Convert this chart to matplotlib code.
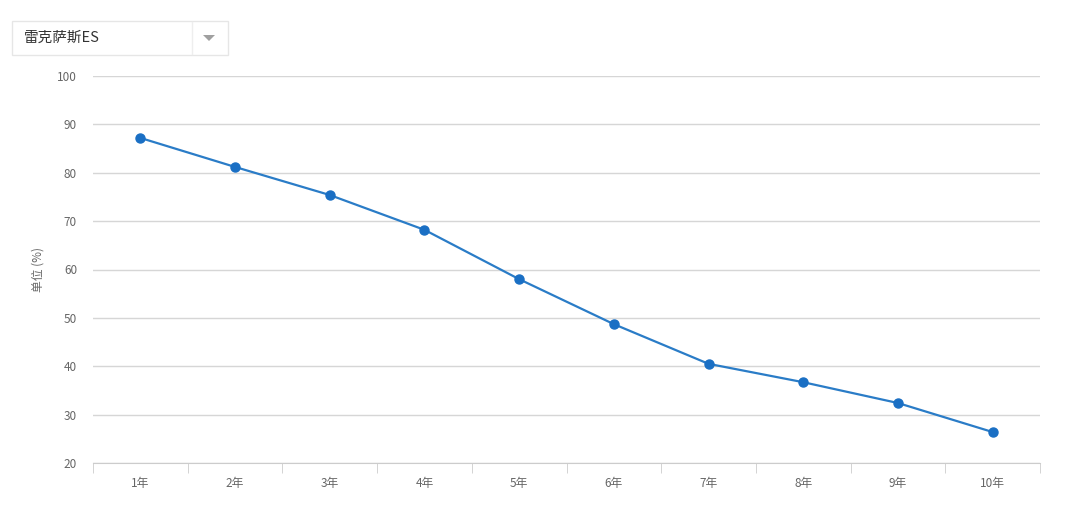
import matplotlib
matplotlib.use("Agg")
import matplotlib.pyplot as plt
from matplotlib.patches import Rectangle, Polygon
import numpy as np

plt.rcParams['font.family'] = ['Noto Sans CJK SC', 'DejaVu Sans']

years = ["1年", "2年", "3年", "4年", "5年", "6年", "7年", "8年", "9年", "10年"]
retention = [87.2, 81.2, 75.4, 68.2, 58.0, 48.7, 40.5, 36.7, 32.4, 26.4]
yticks = [20, 30, 40, 50, 60, 70, 80, 90, 100]
model = "雷克萨斯ES"

fig = plt.figure(figsize=(10.8, 5.23), dpi=100)
ax = fig.add_axes([93/1080, 1-463/523, (1040-93)/1080, (463-76)/523])

x = np.arange(len(years))
ax.plot(x, retention, color='#2a7cc7', lw=1.6, marker='o', ms=6.5,
        mfc='#1a6fc4', mec='#1a6fc4', zorder=3)

ax.set_xlim(-0.5, len(years) - 0.5)
ax.set_ylim(20, 100)
ax.set_yticks(yticks)
ax.set_xticks(x)
ax.set_xticklabels(years)
ax.set_xticks(np.arange(-0.5, len(years)), minor=True)

ax.grid(axis='y', color='#d6d6d6', lw=1)
for s in ['top', 'right', 'left']:
    ax.spines[s].set_visible(False)
ax.spines['bottom'].set_color('#cccccc')
ax.tick_params(axis='y', length=0, pad=11.5, labelsize=8.5, labelcolor='#666666')
ax.tick_params(axis='x', which='major', length=0, pad=10, labelsize=8.5, labelcolor='#666666')
ax.tick_params(axis='x', which='minor', length=7, color='#cccccc')
ax.set_ylabel("单位 (%)", fontsize=8.5, color='#666666', labelpad=9)

# dropdown box
fig.patches.append(Rectangle((12/1080, 1-55/523), 216/1080, 34/523,
                             transform=fig.transFigure, fc='white', ec='#e6e6e6', lw=1))
fig.lines.append(plt.Line2D([192/1080, 192/1080], [1-54/523, 1-22/523],
                            transform=fig.transFigure, color='#eeeeee', lw=1))
fig.patches.append(Polygon([(203/1080, 1-35/523), (215/1080, 1-35/523), (209/1080, 1-41/523)],
                           closed=True, transform=fig.transFigure, fc='#a0a0a0', ec='none'))
fig.text(24/1080, 1-38/523, model, fontsize=10.5, color='#333333', va='center', ha='left')

fig.savefig("out.png", dpi=100)
